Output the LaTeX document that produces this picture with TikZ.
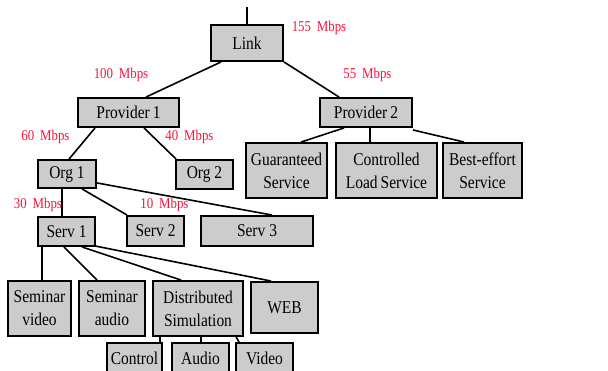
\documentclass[tikz,border=0pt]{standalone}
\usepackage{fontspec}
\setmainfont{Liberation Serif}[FakeStretch=0.86]
\usetikzlibrary{calc}
\definecolor{boxgray}{RGB}{204,204,204}
\definecolor{bwred}{RGB}{250,20,60}
\tikzset{
  box/.style={draw=black, fill=boxgray, line width=1.9pt, inner sep=0pt, align=center,
    font=\fontsize{18}{23}\selectfont},
  conn/.style={line width=1.6pt},
  rate/.style={text=bwred, font=\fontsize{15}{16}\selectfont, inner sep=0pt}
}
\begin{document}
\begin{tikzpicture}[x=1pt,y=-1pt]
\useasboundingbox (0,0) rectangle (608,371);
\clip (0,0) rectangle (608,371);
\fill[white] (0,0) rectangle (608,371);
% boxes
\node[box, minimum width=72pt, minimum height=36pt] (link) at (247,43) {Link};
\node[box, minimum width=101pt, minimum height=29pt] (p1) at (128.5,112.5) {Provider\,1};
\node[box, minimum width=92pt, minimum height=29pt] (p2) at (366,112.5) {Provider\,2};
\node[box, minimum width=58pt, minimum height=28pt] (org1) at (67,174) {Org 1};
\node[box, minimum width=57pt, minimum height=29pt] (org2) at (204.5,174.5) {Org 2};
\node[box, minimum width=81pt, minimum height=55pt] (gs) at (286.5,170.5) {Guaranteed\\Service};
\node[box, minimum width=101pt, minimum height=55pt] (cls) at (386.5,170.5) {Controlled\\Load\,Service};
\node[box, minimum width=79pt, minimum height=55pt] (be) at (482.5,170.5) {Best-effort\\Service};
\node[box, minimum width=57pt, minimum height=29pt] (s1) at (66.5,231.5) {Serv 1};
\node[box, minimum width=57pt, minimum height=30pt] (s2) at (155.5,231) {Serv 2};
\node[box, minimum width=112pt, minimum height=30pt] (s3) at (257,231) {Serv 3};
\node[box, minimum width=63pt, minimum height=55pt] (sv) at (39.5,308.5) {Seminar\\video};
\node[box, minimum width=66pt, minimum height=55pt] (sa) at (112,308.5) {Seminar\\audio};
\node[box, minimum width=90pt, minimum height=55pt] (ds) at (198,308.5) {Distributed\\Simulation};
\node[box, minimum width=67pt, minimum height=51pt] (web) at (284.5,307.5) {WEB};
\node[box, minimum width=55pt, minimum height=30pt] (ctl) at (134.5,358) {Control};
\node[box, minimum width=57pt, minimum height=30pt] (aud) at (200.5,358) {Audio};
\node[box, minimum width=57pt, minimum height=30pt] (vid) at (264.5,358) {Video};
% top link
\coordinate (top) at (247,7);
\draw[conn] (top) -- (link.north);
% connectors
\draw[conn] ([xshift=11pt]link.south west) -- ([xshift=69pt]p1.north west);
\draw[conn] (link.south east) -- ([xshift=20pt]p2.north west);
\draw[conn] ([xshift=18pt]p1.south west) -- ([xshift=32pt]org1.north west);
\draw[conn] ([xshift=67pt]p1.south west) -- ([xshift=1pt]org2.north west);
\draw[conn] ([xshift=25pt]p2.south west) -- ([xshift=56pt]gs.north west);
\draw[conn] ([xshift=51pt]p2.south west) -- ([xshift=35pt]cls.north west);
\draw[conn] ([yshift=-2pt]p2.south east) -- ([xshift=22pt]be.north west);
\draw[conn] ([xshift=25pt]org1.south west) -- ([xshift=25pt]s1.north west);
\draw[conn] ([xshift=45pt]org1.south west) -- ([xshift=1pt]s2.north west);
\draw[conn] ([yshift=6pt]org1.south east) -- ([xshift=72pt]s3.north west);
\draw[conn] ([xshift=5pt]s1.south west) -- ([xshift=35pt]sv.north west);
\draw[conn] ([xshift=27pt]s1.south west) -- ([xshift=19pt]sa.north west);
\draw[conn] ([xshift=45pt]s1.south west) -- ([xshift=29pt]ds.north west);
\draw[conn] ([xshift=-1pt,yshift=1pt]s1.south east) -- ([xshift=21pt]web.north west);
\draw[conn] ([xshift=8pt]ds.south west) -- ([xshift=-3pt]ctl.north east);
\draw[conn] ([xshift=49pt]ds.south west) -- ([xshift=30pt]aud.north west);
\draw[conn] ([xshift=84pt]ds.south west) -- ([xshift=4pt]vid.north west);
% rate labels
\node[rate] (r155) at (319,28) {155\, Mbps};
\node[rate] (r100) at (121,75) {100\, Mbps};
\node[rate] (r55) at (367.5,75) {55\, Mbps};
\node[rate] (r60) at (45.5,137) {60\, Mbps};
\node[rate] (r40) at (189.5,137) {40\, Mbps};
\node[rate] (r30) at (38,205) {30\, Mbps};
\node[rate] (r10) at (164.5,205) {10\, Mbps};
\end{tikzpicture}
\end{document}
